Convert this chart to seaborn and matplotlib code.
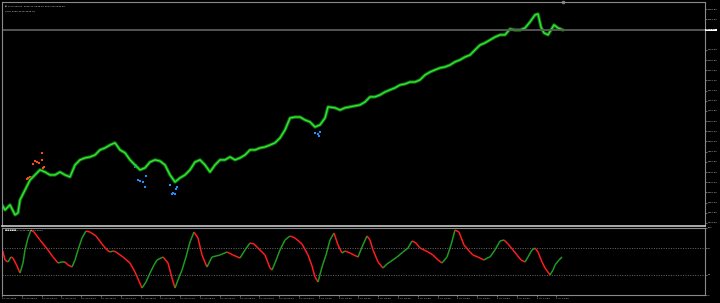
import numpy as np
import pandas as pd
import matplotlib
matplotlib.use("Agg")
import matplotlib.pyplot as plt
import seaborn as sns
from matplotlib.collections import LineCollection
from matplotlib.transforms import blended_transform_factory

# ---------------- data ----------------
bar_x = [2, 5, 10, 15, 18, 20, 25, 30, 35, 40, 45, 50, 55, 60, 65, 70, 75, 80, 85, 90,
         95, 100, 105, 110, 115, 120, 125, 130, 135, 140, 145, 150, 155, 160, 165, 170,
         175, 180, 185, 190, 195, 200, 205, 210, 215, 220, 225, 230, 235, 240, 245, 250,
         255, 260, 265, 270, 275, 280, 285, 290, 295, 300, 305, 310, 315, 320, 325, 328,
         335, 340, 345, 350, 355, 360, 365, 370, 375, 380, 385, 390, 395, 400, 405, 410,
         415, 420, 425, 430, 435, 440, 445, 450, 455, 460, 465, 470, 475, 480, 485, 490,
         495, 500, 505, 510, 515, 520, 525, 530, 535, 538, 541, 544, 548, 551, 554, 558, 563]
close = [3258.8, 3256.2, 3258.8, 3253.7, 3254.7, 3261.3, 3266.4, 3271.5, 3274.1, 3276.7,
         3275.6, 3274.1, 3274.1, 3275.6, 3274.1, 3273.1, 3279.2, 3281.8, 3282.8, 3283.3,
         3284.3, 3286.9, 3287.9, 3289.4, 3290.5, 3286.9, 3285.4, 3281.8, 3279.2, 3276.7,
         3277.7, 3280.7, 3281.8, 3281.2, 3279.2, 3274.1, 3270.5, 3272.6, 3274.1, 3276.7,
         3280.7, 3281.8, 3279.2, 3275.6, 3279.2, 3281.8, 3281.8, 3283.3, 3281.8, 3282.8,
         3284.3, 3286.9, 3286.9, 3287.9, 3288.4, 3289.4, 3290.5, 3293.0, 3297.1, 3303.2,
         3303.7, 3303.7, 3302.2, 3301.2, 3298.6, 3299.7, 3303.2, 3308.9, 3308.4, 3307.3,
         3308.4, 3308.9, 3309.4, 3309.9, 3311.4, 3314.0, 3314.0, 3315.0, 3316.5, 3317.6,
         3318.6, 3320.1, 3320.6, 3321.6, 3321.6, 3322.7, 3325.2, 3326.7, 3327.8, 3328.8,
         3329.3, 3330.3, 3331.9, 3332.9, 3334.4, 3335.4, 3338.0, 3340.5, 3341.6, 3343.1,
         3344.6, 3345.7, 3345.7, 3348.7, 3348.2, 3348.2, 3349.2, 3352.3, 3355.9, 3356.4,
         3349.7, 3346.7, 3345.7, 3348.2, 3350.8, 3349.2, 3348.2]
current_price = 3348.20

red_x = [42, 35, 37, 42, 33, 39, 44, 43, 28, 30, 32, 27]
red_p = [3285.4, 3281.3, 3280.8, 3281.8, 3279.7, 3280.2, 3278.2, 3277.7, 3272.6, 3273.1,
         3273.1, 3272.1]
blue_x = [136, 135, 138, 140, 143, 146, 145, 170, 176, 177, 173, 175, 172, 315, 318, 319, 320]
blue_p = [3279.2, 3278.2, 3271.6, 3271.0, 3270.5, 3273.6, 3268.0, 3269.0, 3267.0, 3268.0,
          3264.9, 3264.4, 3264.4, 3295.6, 3295.0, 3294.0, 3296.1]

osc_x = [0, 3, 5, 8, 11, 13, 17, 20, 23, 25, 28, 31, 34, 40, 48, 53, 58, 62, 65, 68, 72,
         75, 78, 82, 86, 90, 96, 102, 107, 110, 113, 116, 123, 130, 135, 142, 146, 150,
         154, 157, 163, 168, 172, 175, 178, 182, 186, 190, 194, 198, 202, 207, 212, 216,
         220, 227, 233, 240, 245, 250, 254, 258, 265, 270, 272, 275, 280, 285, 290, 295,
         302, 308, 312, 315, 318, 322, 326, 330, 334, 338, 342, 345, 350, 354, 358, 362,
         367, 370, 373, 378, 383, 387, 390, 397, 403, 408, 412, 416, 420, 428, 433, 438,
         442, 447, 451, 455, 459, 464, 470, 473, 480, 484, 487, 490, 495, 500, 504, 508,
         513, 517, 521, 525, 528, 532, 535, 538, 542, 545, 550, 553, 555, 559, 562]
osc_val = [76.1, 64.2, 52.2, 49.3, 56.7, 55.2, 43.3, 32.8, 47.8, 67.2, 85.1, 97.0, 94.0,
           82.1, 67.2, 56.7, 47.8, 49.3, 49.3, 44.8, 41.8, 52.2, 67.2, 85.1, 95.5, 94.0,
           88.1, 76.1, 67.2, 64.2, 65.7, 64.2, 56.7, 47.8, 34.3, 10.4, 19.4, 32.8, 44.8,
           52.2, 56.7, 47.8, 25.4, 10.4, 22.4, 37.3, 56.7, 79.1, 94.0, 85.1, 59.7, 41.8,
           56.7, 58.2, 59.7, 64.2, 59.7, 55.2, 67.2, 77.6, 76.1, 70.1, 59.7, 40.3, 37.3,
           47.8, 67.2, 82.1, 88.1, 85.1, 76.1, 59.7, 43.3, 26.9, 19.4, 41.8, 59.7, 82.1,
           92.5, 74.6, 62.7, 65.7, 62.7, 59.7, 56.7, 71.6, 88.1, 82.1, 67.2, 49.3, 40.3,
           46.3, 49.3, 56.7, 64.2, 70.1, 80.6, 77.6, 70.1, 64.2, 59.7, 52.2, 47.8, 56.7,
           74.6, 97.0, 94.0, 74.6, 64.2, 59.7, 55.2, 52.2, 55.2, 56.7, 67.2, 80.6, 82.1,
           76.1, 67.2, 59.7, 52.2, 49.3, 56.7, 67.2, 70.1, 64.2, 49.3, 40.3, 29.9, 37.3,
           44.8, 52.2, 56.7]
osc_levels = [70, 30]

price_ticks = [3249.60, 3254.80, 3260.00, 3265.20, 3270.40, 3275.60, 3280.80, 3286.00,
               3291.20, 3296.40, 3301.60, 3306.80, 3312.00, 3317.20, 3322.40, 3327.60,
               3332.80, 3338.00, 3353.60, 3358.80]
time_labels = ["30 Jun 2025", "30 Jun 09:00", "30 Jun 10:00", "30 Jun 11:00", "30 Jun 12:00",
               "30 Jun 13:00", "30 Jun 14:00", "30 Jun 15:00", "30 Jun 16:00", "30 Jun 17:00",
               "30 Jun 18:00", "30 Jun 19:00", "30 Jun 20:00", "30 Jun 21:00", "30 Jun 22:00",
               "30 Jun 23:00", "1 Jul 00:00", "1 Jul 01:00", "1 Jul 02:00", "1 Jul 03:00",
               "1 Jul 04:00", "1 Jul 05:00", "1 Jul 06:00", "1 Jul 07:00", "1 Jul 08:00",
               "1 Jul 09:00", "1 Jul 10:00", "1 Jul 11:00", "1 Jul 12:00"]
header = "\u25bc XAUUSD,M5  3348.74 3348.95 3347.90 3348.20"
header2 = "1601 3299 3308 3439.32"
osc_title = "\u25a0\u25a0\u25a0\u25a0\u25a0(5,3) 56.3879 42.5674"

# ---------------- style ----------------
sns.set_theme(style="dark")
plt.rcParams["font.family"] = ["DejaVu Sans"]
plt.rcParams["axes.facecolor"] = "black"
plt.rcParams["figure.facecolor"] = "black"

W, H = 720, 303
def rect(x0, y0, x1, y1):
    return [x0 / W, 1 - y1 / H, (x1 - x0) / W, (y1 - y0) / H]

fig = plt.figure(figsize=(7.2, 3.03), dpi=100, facecolor="black")
ax = fig.add_axes(rect(2, 2, 705, 226))
axo = fig.add_axes(rect(2, 228, 705, 295))

grey = "#8a8a8a"
fs = 2.6
tfs = 1.75

# main price chart
df = pd.DataFrame({"x": bar_x, "close": close})
sns.lineplot(data=df, x="x", y="close", ax=ax, color="#117a13", lw=2.4)
sns.lineplot(data=df, x="x", y="close", ax=ax, color="#35ec35", lw=0.9)
sns.scatterplot(x=red_x, y=red_p, ax=ax, color="#ff4a14", marker="s", s=4,
                linewidth=0)
sns.scatterplot(x=blue_x, y=blue_p, ax=ax, color="#1e8fff", marker="s", s=4,
                linewidth=0)
ax.axhline(current_price, color="#5a5a5a", lw=1.3)
ax.set_xlim(2, 705)
ax.set_ylim(3248.0, 3362.5)
ax.set_xlabel("")
ax.set_ylabel("")
ax.set_xticks([])
ax.yaxis.tick_right()
ax.set_yticks(price_ticks)
ax.set_yticklabels([f"{v:.2f}" for v in price_ticks])
ax.tick_params(axis="y", colors=grey, labelcolor="#d0d0d0", labelsize=tfs, length=1.5,
               width=0.5, pad=0.8, right=True, left=False, direction="out")
ax.grid(False)
for s in ax.spines.values():
    s.set_color(grey)
    s.set_linewidth(0.8)
ax.spines["bottom"].set_color("#c8c8c8")
ax.spines["bottom"].set_linewidth(1.2)
ax.text(1.0015, current_price, f"{current_price:.2f}",
        transform=blended_transform_factory(ax.transAxes, ax.transData),
        ha="left", va="center", fontsize=tfs, color="black",
        bbox=dict(facecolor="white", edgecolor="none", pad=0.5))
ax.plot([563], [1.0], marker="s", ms=1.8, color="#7a7a7a", clip_on=False,
        transform=blended_transform_factory(ax.transData, ax.transAxes))
ax.text(0.004, 0.985, header, transform=ax.transAxes, ha="left", va="top",
        fontsize=tfs, color="#e0e0e0")
ax.text(0.004, 0.958, header2, transform=ax.transAxes, ha="left", va="top",
        fontsize=tfs, color="#e0e0e0")

# oscillator
pts = np.column_stack([osc_x, osc_val])
segs = np.stack([pts[:-1], pts[1:]], axis=1)
cols = ["#1f9a1f" if b >= a else "#ff1c1c" for a, b in zip(osc_val[:-1], osc_val[1:])]
axo.add_collection(LineCollection(segs, colors=cols, linewidths=1.1))
for lv in osc_levels:
    axo.axhline(lv, color="#6a6a6a", lw=0.7, ls=(0, (1, 1.5)))
axo.set_xlim(2, 705)
axo.set_ylim(0, 100)
axo.yaxis.tick_right()
axo.set_yticks([0, 30, 70, 100])
axo.set_yticklabels(["0", "30", "70", "100"])
axo.tick_params(axis="y", colors=grey, labelcolor="#d0d0d0", labelsize=tfs, length=1.5,
                width=0.5, pad=0.8, right=True, left=False)
tick_pos = [2 + 19.8 * k for k in range(len(time_labels))]
axo.set_xticks(tick_pos)
axo.set_xticklabels(time_labels, ha="left")
axo.tick_params(axis="x", colors=grey, labelcolor="#d0d0d0", labelsize=tfs, length=1.5,
                width=0.5, pad=0.6, bottom=True)
axo.grid(False)
for s in axo.spines.values():
    s.set_color(grey)
    s.set_linewidth(0.8)
axo.text(0.004, 0.97, osc_title, transform=axo.transAxes, ha="left", va="top",
         fontsize=tfs, color="#d8d8d8")

fig.savefig("out.png", dpi=100, facecolor="black")
